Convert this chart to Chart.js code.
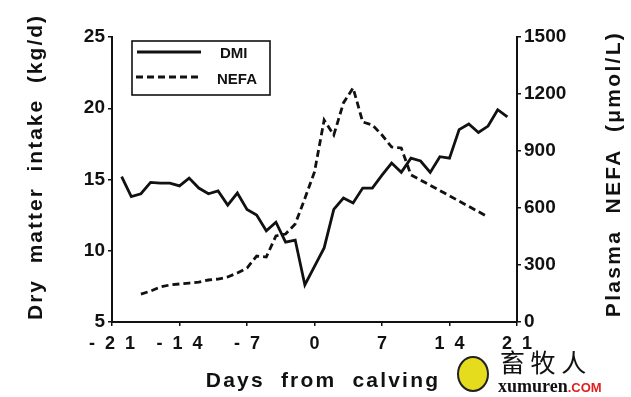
<!DOCTYPE html>
<html>
<head>
<meta charset="utf-8">
<script src="https://cdn.jsdelivr.net/npm/chart.js@4.4.1/dist/chart.umd.min.js"></script>
<style>
  html, body { margin: 0; padding: 0; background: #fff; }
  #wrap { width: 631px; height: 397px; position: relative; }
</style>
</head>
<body>
<div id="wrap"><canvas id="chart"></canvas></div>
<script>
// days relative to calving
const dmiDays = [-20, -19, -18, -17, -16, -15, -14, -13, -12, -11, -10, -9, -8, -7, -6, -5, -4, -3, -2, -1,
                 0, 1, 2, 3, 4, 5, 6, 7, 8, 9, 10, 11, 12, 13, 14, 15, 16, 17, 18, 19, 20];
// dry matter intake, kg/d
const dmi = [15.2, 13.8, 14.0, 14.8, 14.75, 14.75, 14.55, 15.1, 14.4, 14.0, 14.2, 13.2, 14.05, 12.9, 12.5, 11.4, 12.0, 10.6, 10.75, 7.6,
             8.9, 10.2, 12.9, 13.7, 13.35, 14.4, 14.4, 15.3, 16.15, 15.5, 16.5, 16.3, 15.5, 16.6, 16.5, 18.5, 18.9, 18.3, 18.75, 19.9, 19.4];

const nefaDays = [-18, -17, -16, -15, -14, -13, -12, -11, -10, -9, -8, -7, -6, -5, -4, -3, -2, -1,
                  0, 1, 2, 3, 4, 5, 6, 7, 8, 9, 10, 11, 18];
// plasma NEFA, umol/L
const nefa = [147, 163, 184, 195, 200, 205, 210, 221, 226, 237, 258, 284, 347, 342, 453, 463, 516, 650,
              790, 1063, 984, 1153, 1232, 1053, 1037, 984, 921, 916, 774, 747, 553];

const xTicks = [-21, -14, -7, 0, 7, 14, 21];
const xTickLabels = ['-  2  1', '-  1  4', '-  7', '0', '7', '1  4', '2  1'];
const seriesNames = ['DMI', 'NEFA'];

const FONT = '"Liberation Sans", Arial, sans-serif';
const AREA = { left: 112, right: 517, top: 37, bottom: 322 };

function spacedText(ctx, text, x, y, rot, spacing) {
  ctx.save();
  ctx.translate(x, y);
  ctx.rotate(rot);
  ctx.letterSpacing = spacing + 'px';
  ctx.textAlign = 'center';
  ctx.textBaseline = 'middle';
  ctx.fillText(text, 0, 0);
  ctx.restore();
}

// legend box, axis titles and watermark
const extras = {
  id: 'extras',
  afterDraw(chart) {
    const ctx = chart.ctx;
    ctx.save();
    // legend
    ctx.strokeStyle = '#111';
    ctx.lineWidth = 1.6;
    ctx.strokeRect(132, 41, 138, 54);
    ctx.lineWidth = 2.8;
    ctx.beginPath(); ctx.moveTo(137, 52); ctx.lineTo(201, 52); ctx.stroke();
    ctx.setLineDash([7, 4]);
    ctx.beginPath(); ctx.moveTo(136, 77); ctx.lineTo(200, 77); ctx.stroke();
    ctx.setLineDash([]);
    ctx.fillStyle = '#111';
    ctx.font = 'bold 15px ' + FONT;
    ctx.textBaseline = 'middle';
    ctx.textAlign = 'left';
    ctx.fillText(seriesNames[0], 220, 54);
    ctx.fillText(seriesNames[1], 217, 80);

    // axis titles
    ctx.font = 'bold 21px ' + FONT;
    spacedText(ctx, 'Dry  matter  intake  (kg/d)', 36, 167, -Math.PI / 2, 2);
    spacedText(ctx, 'Plasma  NEFA  (\u03bcmol/L)', 614, 174, -Math.PI / 2, 2.3);
    spacedText(ctx, 'Days  from  calving', 323, 381, 0, 2.2);

    // watermark
    ctx.beginPath();
    ctx.ellipse(473, 374, 15, 17, 0, 0, Math.PI * 2);
    ctx.fillStyle = '#e6dc1e';
    ctx.fill();
    ctx.lineWidth = 2;
    ctx.strokeStyle = '#222';
    ctx.stroke();
    ctx.fillStyle = '#111';
    ctx.font = '25px "Noto Sans CJK SC", serif';
    ctx.textAlign = 'left';
    ctx.textBaseline = 'alphabetic';
    ctx.fillText('畜 牧 人', 500, 372);
    ctx.font = 'bold 18px "Liberation Serif", serif';
    ctx.fillText('xumuren', 498, 392);
    const w = ctx.measureText('xumuren').width;
    ctx.fillStyle = '#e02020';
    ctx.font = 'bold 13px "Liberation Sans", sans-serif';
    ctx.fillText('.COM', 498 + w, 392);
    ctx.restore();
  }
};

new Chart(document.getElementById('chart'), {
  type: 'line',
  data: {
    datasets: [
      {
        label: seriesNames[0],
        data: dmiDays.map((d, i) => ({ x: d, y: dmi[i] })),
        yAxisID: 'y',
        borderColor: '#111',
        borderWidth: 2.8,
        pointRadius: 0,
        tension: 0
      },
      {
        label: seriesNames[1],
        data: nefaDays.map((d, i) => ({ x: d, y: nefa[i] })),
        yAxisID: 'y1',
        borderColor: '#111',
        borderWidth: 2.8,
        borderDash: [7, 4],
        pointRadius: 0,
        tension: 0
      }
    ]
  },
  options: {
    responsive: true,
    maintainAspectRatio: false,
    animation: false,
    layout: { padding: { top: AREA.top, left: 0, right: 0, bottom: 0 } },
    plugins: { legend: { display: false }, tooltip: { enabled: false } },
    scales: {
      x: {
        type: 'linear',
        min: -21, max: 21,
        afterBuildTicks: s => { s.ticks = xTicks.map(v => ({ value: v })); },
        afterFit: s => { s.height = 397 - AREA.bottom; },
        border: { color: '#111', width: 2 },
        grid: { drawOnChartArea: false, color: '#111', tickLength: 4, lineWidth: 1.5 },
        ticks: {
          color: '#111', padding: 7, maxRotation: 0,
          font: { family: FONT, size: 18, weight: 'bold' },
          callback: v => xTickLabels[xTicks.indexOf(v)]
        }
      },
      y: {
        position: 'left',
        min: 5, max: 25,
        afterFit: s => { s.width = AREA.left; },
        border: { color: '#111', width: 2 },
        grid: { drawOnChartArea: false, color: '#111', tickLength: 4, lineWidth: 1.5 },
        ticks: { stepSize: 5, color: '#111', padding: 3, font: { family: FONT, size: 19, weight: 'bold' } }
      },
      y1: {
        position: 'right',
        min: 0, max: 1500,
        afterFit: s => { s.width = 631 - AREA.right; },
        border: { color: '#111', width: 2 },
        grid: { drawOnChartArea: false, color: '#111', tickLength: 4, lineWidth: 1.5 },
        ticks: {
          stepSize: 300, color: '#111', padding: 3,
          font: { family: FONT, size: 19, weight: 'bold' },
          callback: v => String(v)
        }
      }
    }
  },
  plugins: [extras]
});
</script>
</body>
</html>
